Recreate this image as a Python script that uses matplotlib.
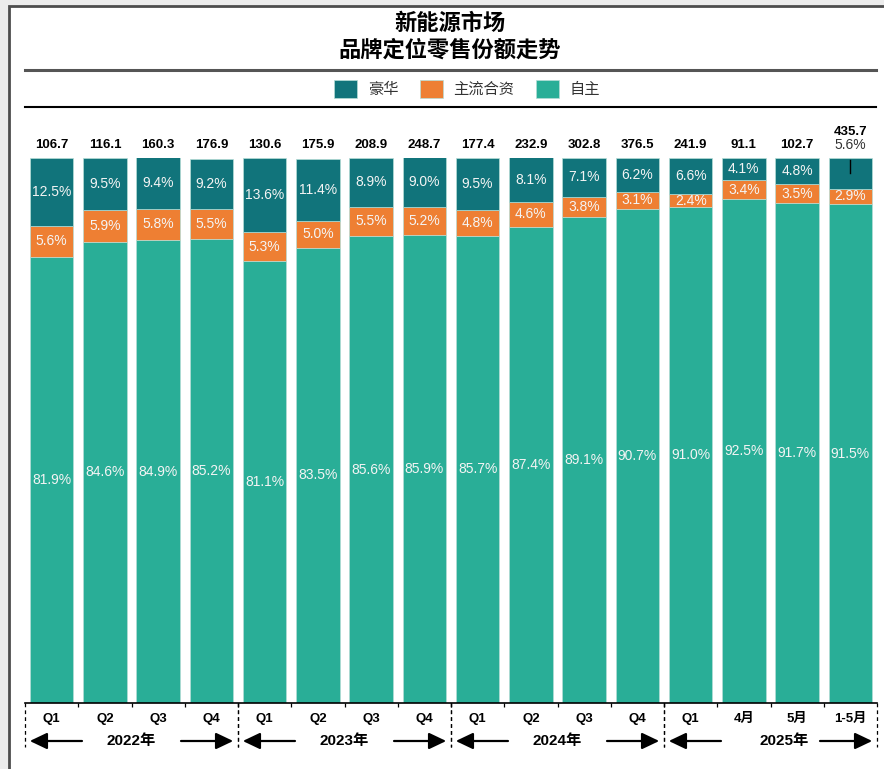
import numpy as np
import matplotlib
matplotlib.use('Agg')
import matplotlib.pyplot as plt
from matplotlib.patches import Rectangle
from matplotlib.lines import Line2D

plt.rcParams['font.family'] = ['Liberation Sans', 'Noto Sans CJK SC']

# 数据
categories = ['Q1', 'Q2', 'Q3', 'Q4', 'Q1', 'Q2', 'Q3', 'Q4',
              'Q1', 'Q2', 'Q3', 'Q4', 'Q1', '4月', '5月', '1-5月']
years = ['2022年', '2023年', '2024年', '2025年']
totals = [106.7, 116.1, 160.3, 176.9, 130.6, 175.9, 208.9, 248.7,
          177.4, 232.9, 302.8, 376.5, 241.9, 91.1, 102.7, 435.7]
luxury = [12.5, 9.5, 9.4, 9.2, 13.6, 11.4, 8.9, 9.0,
          9.5, 8.1, 7.1, 6.2, 6.6, 4.1, 4.8, 5.6]
mainstream_jv = [5.6, 5.9, 5.8, 5.5, 5.3, 5.0, 5.5, 5.2,
                 4.8, 4.6, 3.8, 3.1, 2.4, 3.4, 3.5, 2.9]
domestic = [81.9, 84.6, 84.9, 85.2, 81.1, 83.5, 85.6, 85.9,
            85.7, 87.4, 89.1, 90.7, 91.0, 92.5, 91.7, 91.5]
series_names = ['豪华', '主流合资', '自主']

c_lux = '#11747B'
c_jv = '#EE7F33'
c_dom = '#29AE97'
edge = '#b5ddd6'

fig = plt.figure(figsize=(8.84, 7.69), dpi=100)
fig.patch.set_facecolor('#ececec')
W, H = 884, 769

# 外框
fig.patches.append(Rectangle((9 / W, -0.05), 1.2, 1.05 - 6 / H, transform=fig.transFigure,
                             facecolor='white', edgecolor='#4d4d4d', lw=2, zorder=-10))

ax = fig.add_axes([25 / W, 1 - 703 / H, 852 / W, 545 / H])
ax.set_facecolor('none')

x = np.arange(len(categories))
dom = np.array(domestic)
jv = np.array(mainstream_jv)
lux = np.array(luxury)
bw = 0.82

b1 = ax.bar(x, dom, bw, color=c_dom, edgecolor=edge, lw=0.5)
b2 = ax.bar(x, jv, bw, bottom=dom, color=c_jv, edgecolor=edge, lw=0.5)
b3 = ax.bar(x, lux, bw, bottom=dom + jv, color=c_lux, edgecolor=edge, lw=0.5)

ax.set_xlim(-0.5, len(categories) - 0.5)
ax.set_ylim(0, 100)

lbl = dict(ha='center', va='center', color='#f4f4f4', fontsize=10)
outside = [15]  # 1-5月 豪华标签放在柱外
for i in x:
    ax.text(i, dom[i] / 2, f'{dom[i]:.1f}%', **lbl)
    ax.text(i, dom[i] + jv[i] / 2, f'{jv[i]:.1f}%', **lbl)
    if i in outside:
        ax.annotate(f'{lux[i]:.1f}%', (i, 100), xytext=(0, 9.4), textcoords='offset points',
                    ha='center', va='center', fontsize=10, color='#333333')
        ax.plot([i, i], [99.6, 97.2], color='black', lw=1)
        ax.annotate(f'{totals[i]:.1f}', (i, 100), xytext=(0, 19), textcoords='offset points',
                    ha='center', va='center', fontsize=9.5, fontweight='bold')
    else:
        ax.text(i, dom[i] + jv[i] + lux[i] / 2, f'{lux[i]:.1f}%', **lbl)
        ax.annotate(f'{totals[i]:.1f}', (i, 100), xytext=(0, 9.4), textcoords='offset points',
                    ha='center', va='center', fontsize=9.5, fontweight='bold')

# 坐标轴
for s in ['left', 'right', 'top']:
    ax.spines[s].set_visible(False)
ax.spines['bottom'].set_linewidth(1.2)
ax.set_yticks([])
ax.set_xticks([])
ax.set_xticks(np.arange(0.5, len(categories) - 1, 1), minor=True)
ax.tick_params(axis='x', which='minor', length=3, width=0.9, color='black')

tr = ax.get_xaxis_transform()
for i, c in enumerate(categories):
    ax.text(i, -16 / 545, c, transform=tr, ha='center', va='center',
            fontsize=9.5, fontweight='bold', clip_on=False)

# 年份分隔和箭头
label_shift = [0, 0, 0, 0.25]
for k, yr in enumerate(years):
    x0 = k * 4 - 0.5
    x1 = x0 + 4
    for xb in (x0, x1):
        ax.add_line(Line2D([xb, xb], [0, -44 / 545], transform=tr, color='black',
                           lw=0.9, ls=(0, (3, 2.5)), clip_on=False))
    ya = -38 / 545
    ap = dict(arrowstyle='-|>,head_length=10.5,head_width=5', mutation_scale=1,
              color='black', lw=1.6, shrinkA=0, shrinkB=0)
    ax.annotate('', xy=(x0 + 0.09, ya), xytext=(x0 + 1.07, ya), xycoords=tr,
                textcoords=tr, arrowprops=ap, annotation_clip=False)
    ax.annotate('', xy=(x1 - 0.09, ya), xytext=(x1 - 1.07, ya), xycoords=tr,
                textcoords=tr, arrowprops=ap, annotation_clip=False)
    ax.text((x0 + x1) / 2 + label_shift[k], ya, yr, transform=tr, ha='center',
            va='center', fontsize=11, fontweight='bold', clip_on=False)

# 标题
fig.text(450 / W, 1 - 23 / H, '新能源市场', ha='center', va='center', fontsize=16,
         fontweight='bold', family=['Noto Sans CJK SC'])
fig.text(450 / W, 1 - 50 / H, '品牌定位零售份额走势', ha='center', va='center', fontsize=16,
         fontweight='bold', family=['Noto Sans CJK SC'])
fig.add_artist(Line2D([25 / W, 876 / W], [1 - 70 / H] * 2, color='#555555', lw=2.2))
fig.add_artist(Line2D([25 / W, 876 / W], [1 - 107 / H] * 2, color='black', lw=1.5))

# 图例
fig.legend([b3, b2, b1], series_names, loc='center', bbox_to_anchor=(467 / W, 1 - 89 / H),
           ncol=3, frameon=False, fontsize=11, handlelength=1.5, handleheight=1.5,
           handletextpad=0.7, columnspacing=1.4, labelcolor='#333333')

fig.savefig('out.png', dpi=100, facecolor=fig.get_facecolor())
